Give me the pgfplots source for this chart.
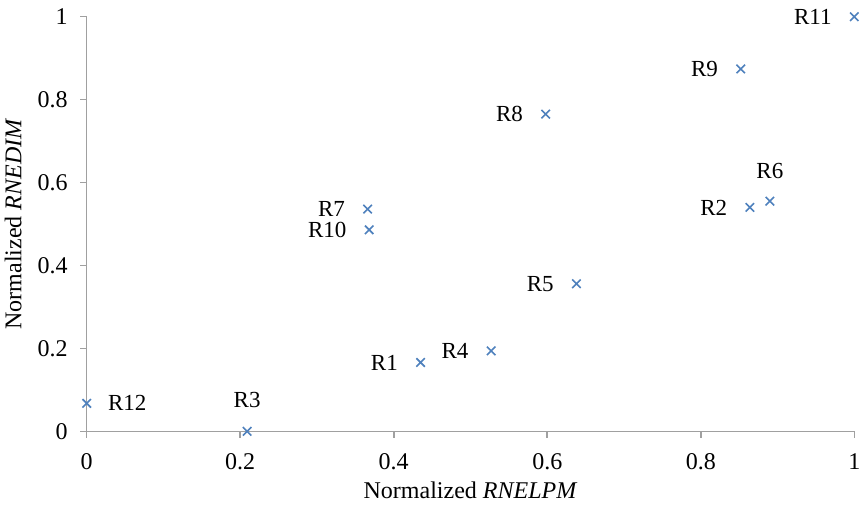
\documentclass[border=0pt]{standalone}
\usepackage{pgfplots}
\pgfplotsset{compat=1.18}
\usepackage{fontspec}
\setmainfont{Liberation Serif}
\definecolor{mblue}{RGB}{79,129,189}
\definecolor{axgray}{RGB}{160,160,160}
\begin{document}
\fontsize{12}{14}\selectfont
\begin{tikzpicture}
\path[use as bounding box] (-43.35pt,-38.85pt) rectangle (386.65pt,215.65pt);
\begin{axis}[
  at={(0,0)}, anchor=south west,
  scale only axis, width=383.8pt, height=207.3pt,
  xmin=0, xmax=1, ymin=0, ymax=1,
  axis x line*=bottom, axis y line*=left,
  axis line style={draw=axgray, line width=0.8pt, -},
  xtick={0,0.2,0.4,0.6,0.8,1}, ytick={0,0.2,0.4,0.6,0.8,1},
  xticklabels={0,0.2,0.4,0.6,0.8,1}, yticklabels={0,0.2,0.4,0.6,0.8,1},
  tick align=outside, major tick length=3.3pt,
  tick style={draw=axgray, line width=0.8pt},
  every tick label/.append style={font=\fontsize{12}{14}\selectfont},
  xticklabel style={yshift=-3.5pt},
  yticklabel style={xshift=-2pt},
  /pgf/number format/assume math mode=true,
  xlabel={Normalized \textit{RNELPM}},
  ylabel={Normalized \textit{RNEDIM}},
  xlabel style={font=\fontsize{12}{14}\selectfont, at={(axis description cs:0.5,0)}, anchor=center, yshift=-29.3pt},
  ylabel style={font=\fontsize{12}{14}\selectfont, at={(axis description cs:0,0.5)}, anchor=center, yshift=36.8pt},
  clip=false,
]
\addplot[only marks, mark=x, mark size=3pt, mark options={draw=mblue, line width=0.8pt},
  visualization depends on={value \thisrow{dx} \as \dx},
  visualization depends on={value \thisrow{dy} \as \dy},
  visualization depends on={value \thisrow{anc} \as \anc},
  point meta=explicit symbolic,
  nodes near coords,
  nodes near coords style={font=\fontsize{11.5}{12}\selectfont, text=black, inner sep=0pt, anchor=\anc, xshift=\dx pt, yshift=\dy pt},
] table[meta=label] {
x y label anc dx dy
0.435 0.166 R1 east -11 0
0.864 0.540 R2 east -11 0
0.209 0.000 R3 south 0 11.5
0.527 0.194 R4 east -11 0
0.638 0.356 R5 east -11 0
0.890 0.555 R6 south 0 10.8
0.366 0.536 R7 east -11 0.3
0.598 0.765 R8 east -11 0
0.852 0.874 R9 east -11 0
0.368 0.486 R10 east -11 -0.3
1.000 1.000 R11 east -11 0
0.000 0.0675 R12 west 10.3 0
};
\end{axis}
\end{tikzpicture}
\end{document}
